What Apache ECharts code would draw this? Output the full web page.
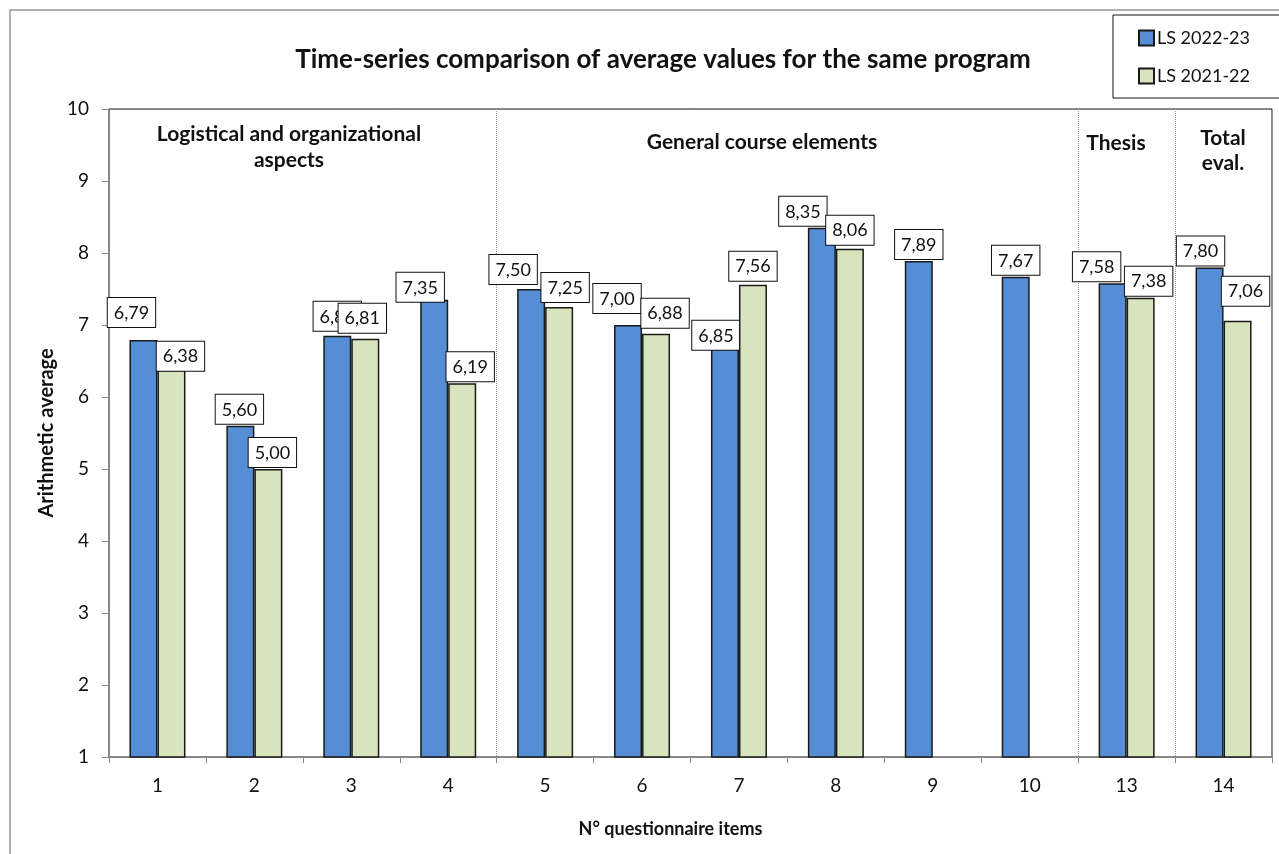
<!DOCTYPE html>
<html>
<head>
<meta charset="utf-8">
<script src="https://cdn.jsdelivr.net/npm/echarts@6/dist/echarts.min.js"></script>
<style>
html,body{margin:0;padding:0;background:#fff;}
#chart{width:1279px;height:854px;}
</style>
</head>
<body>
<div id="chart"></div>
<script>
// ---- data ----
const categories = ['1','2','3','4','5','6','7','8','9','10','13','14'];
const ls2223 = [6.79, 5.60, 6.85, 7.35, 7.50, 7.00, 6.85, 8.35, 7.89, 7.67, 7.58, 7.80];
const ls2122 = [6.38, 5.00, 6.81, 6.19, 7.25, 6.88, 7.56, 8.06, null, null, 7.38, 7.06];
const seriesNames = ['LS 2022-23', 'LS 2021-22'];
const yTicks = [1, 2, 3, 4, 5, 6, 7, 8, 9, 10];
const sectionNames = ['Logistical and organizational\naspects', 'General course elements', 'Thesis', 'Total\neval.'];
const sectionBreaks = [4, 10, 11]; // category index where a new section starts

// ---- layout (label placement tweaks, like the manually nudged labels of the original) ----
const blueLabelShift = [[-12,-11],[-1,0],[0,-3],[-14,4],[-18,-3],[-11,-10],[-9,16],[-19,0],[0,0],[0,0],[-16,0],[-9,0]];
const greenLabelShift = [[9,3],[4,0],[-3,-4],[8,0],[6,-3],[9,-4],[0,-2],[0,-2],[0,0],[0,0],[8,0],[8,-13]];

const FONT = 'Lato, "Noto Sans", sans-serif';
const fmt = v => v.toFixed(2).replace('.', ',');

const labelBase = {
  show: true, position: 'top', distance: 2,
  fontFamily: FONT, fontSize: 18, color: '#111',
  backgroundColor: '#fff', borderColor: '#111', borderWidth: 1,
  padding: [6, 6, 5, 6],
  formatter: p => fmt(p.value)
};

function makeData(values, shifts) {
  return values.map((v, i) => v == null ? null : {
    value: v,
    label: { offset: shifts[i] }
  });
}

const chart = echarts.init(document.getElementById('chart'));
chart.setOption({
  animation: false,
  backgroundColor: '#fff',
  title: {
    text: 'Time-series comparison of average values for the same program',
    left: 658, top: 42, textAlign: 'center',
    textStyle: { fontFamily: FONT, fontWeight: 'bold', fontSize: 26, color: '#111' }
  },
  legend: {
    data: seriesNames,
    orient: 'vertical',
    left: 1113, top: 15,
    padding: [14, 30, 13, 25],
    itemGap: 20,
    itemWidth: 15, itemHeight: 15,
    icon: 'rect',
    backgroundColor: '#fff',
    borderColor: '#111', borderWidth: 1,
    textStyle: { fontFamily: FONT, fontSize: 18, color: '#111', padding: [0,0,0,-2] }
  },
  grid: {
    left: 109, right: 7, top: 109, bottom: 97,
    show: true, borderColor: '#111', borderWidth: 1, backgroundColor: 'transparent'
  },
  xAxis: {
    type: 'category',
    data: categories,
    name: 'N° questionnaire items',
    nameLocation: 'middle', nameGap: 63,
    nameTextStyle: { fontFamily: FONT, fontWeight: 'bold', fontSize: 18, color: '#111', padding: [0, 40, 0, 0] },
    axisLine: { lineStyle: { color: '#888', width: 1.5 } },
    axisTick: { show: true, length: 6, lineStyle: { color: '#888' } },
    axisLabel: { fontFamily: FONT, fontSize: 19, color: '#111', margin: 19 },
    splitLine: {
      show: true,
      interval: (idx) => sectionBreaks.indexOf(idx) >= 0,
      lineStyle: { color: '#999', type: [1, 1], width: 1 }
    }
  },
  yAxis: {
    type: 'value',
    min: yTicks[0], max: yTicks[yTicks.length - 1], interval: 1,
    name: 'Arithmetic average',
    nameLocation: 'middle', nameGap: 52,
    nameTextStyle: { fontFamily: FONT, fontWeight: 'bold', fontSize: 20, color: '#111', padding: [0, 0, 0, 0] },
    axisLine: { show: true, lineStyle: { color: '#888', width: 1.5 } },
    axisTick: { show: true, length: 7, lineStyle: { color: '#888' } },
    axisLabel: { fontFamily: FONT, fontSize: 19, color: '#111', margin: 20 },
    splitLine: { show: false }
  },
  series: [
    {
      name: seriesNames[0], type: 'bar',
      barWidth: 28, barGap: '0%',
      itemStyle: { color: '#558ED5', borderColor: '#1a1a1a', borderWidth: 1.5 },
      label: labelBase,
      data: makeData(ls2223, blueLabelShift),
      z: 2
    },
    {
      name: seriesNames[1], type: 'bar',
      barWidth: 28, barGap: '0%',
      itemStyle: { color: '#D7E4BD', borderColor: '#1a1a1a', borderWidth: 1.5 },
      label: labelBase,
      data: makeData(ls2122, greenLabelShift),
      z: 3
    }
  ],
  graphic: [
    { type: 'rect', z: -10, shape: { x: 10, y: 10, width: 1300, height: 900 },
      style: { fill: 'transparent', stroke: '#999', lineWidth: 1.5 } },
    { type: 'text', x: 289, y: 121,
      style: { text: sectionNames[0], fontFamily: FONT, fontWeight: 'bold', fontSize: 21, fill: '#111', align: 'center', lineHeight: 26 } },
    { type: 'text', x: 762, y: 129,
      style: { text: sectionNames[1], fontFamily: FONT, fontWeight: 'bold', fontSize: 21, fill: '#111', align: 'center', lineHeight: 26 } },
    { type: 'text', x: 1116, y: 130,
      style: { text: sectionNames[2], fontFamily: FONT, fontWeight: 'bold', fontSize: 21, fill: '#111', align: 'center', lineHeight: 26 } },
    { type: 'text', x: 1223, y: 126,
      style: { text: sectionNames[3], fontFamily: FONT, fontWeight: 'bold', fontSize: 21, fill: '#111', align: 'center', lineHeight: 25 } }
  ]
});
</script>
</body>
</html>
